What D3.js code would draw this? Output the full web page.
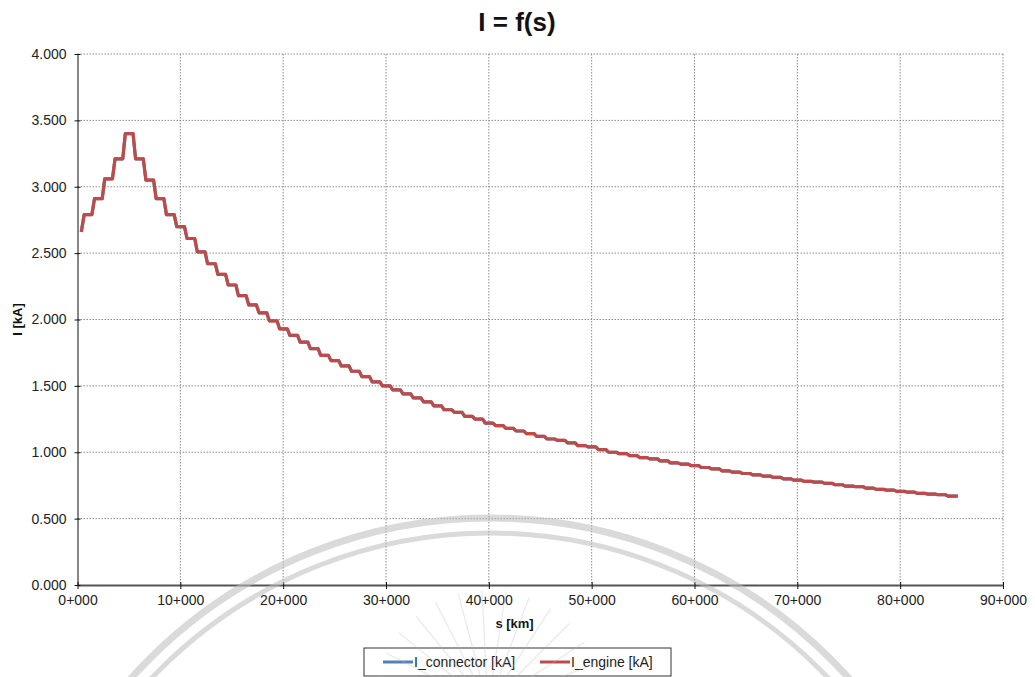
<!DOCTYPE html>
<html lang="en">
<head>
    <meta charset="UTF-8" />
    <title>I = f(s)</title>
    <script src="https://d3js.org/d3.v7.min.js"></script>
    <style>
        body { margin: 0; background: #fff; font-family: 'Liberation Sans', Arial, sans-serif; }
        .tick text { font-size: 14px; fill: #222; }
        .grid line { stroke: #8c8c8c; stroke-dasharray: 1.5,1.5; }
        .title { font-size: 26px; font-weight: bold; fill: #111; }
        .axis-label { font-size: 13px; font-weight: bold; fill: #111; }
        .legend text { font-size: 14px; fill: #222; }
    </style>
</head>
<body>
<svg id="chart"></svg>
<script>
    // x axis in km, y axis in kA
    const xTicks = [0, 10, 20, 30, 40, 50, 60, 70, 80, 90];
    const yTicks = [0, 0.5, 1, 1.5, 2, 2.5, 3, 3.5, 4];

    // first point, then one level per km step (step centred on s = 1, 2, 3 ...)
    const startS = 0.37, startI = 2.66;
    const endS = 85.6;
    const levels = [
        2.79, 2.91, 3.06, 3.21, 3.40, 3.21, 3.05, 2.91, 2.79, 2.70,
        2.61, 2.51, 2.42, 2.34, 2.26, 2.18, 2.11, 2.05, 1.99, 1.93,
        1.88, 1.83, 1.78, 1.73, 1.69, 1.65, 1.61, 1.57, 1.53, 1.50,
        1.47, 1.44, 1.41, 1.38, 1.35, 1.32, 1.30, 1.27, 1.25, 1.22,
        1.20, 1.18, 1.16, 1.14, 1.12, 1.10, 1.09, 1.07, 1.05, 1.04,
        1.02, 1.00, 0.99, 0.975, 0.96, 0.95, 0.935, 0.92, 0.91, 0.90,
        0.885, 0.875, 0.86, 0.85, 0.84, 0.83, 0.82, 0.81, 0.80, 0.79,
        0.78, 0.775, 0.765, 0.755, 0.745, 0.74, 0.73, 0.72, 0.715, 0.705,
        0.70, 0.69, 0.685, 0.68, 0.67
    ];
    const seriesNames = ["I_connector [kA]", "I_engine [kA]"];
    const seriesColors = ["#4f81bd", "#be4b48"];

    const W = 1035, H = 677;
    const margin = { top: 54, right: 32, bottom: 92, left: 77.5 };
    const width = W - margin.left - margin.right;
    const height = H - margin.top - margin.bottom;

    const root = d3.select("#chart").attr("width", W).attr("height", H);
    const svg = root.append("g")
        .attr("transform", "translate(" + margin.left + "," + margin.top + ")");

    const x = d3.scaleLinear().domain([0, 90]).range([0, width]);
    const y = d3.scaleLinear().domain([0, 4]).range([height, 0]);

    // gridlines
    svg.append("g").attr("class", "grid")
        .selectAll("line").data(yTicks.slice(1)).enter().append("line")
        .attr("x1", 0).attr("x2", width)
        .attr("y1", d => y(d)).attr("y2", d => y(d));
    svg.append("g").attr("class", "grid")
        .selectAll("line").data(xTicks.slice(1)).enter().append("line")
        .attr("y1", 0).attr("y2", height)
        .attr("x1", d => x(d)).attr("x2", d => x(d));

    // axes
    const xAxis = svg.append("g")
        .attr("transform", "translate(0," + height + ")")
        .call(d3.axisBottom(x).tickValues(xTicks).tickFormat(d => d + "+000")
            .tickSizeInner(4).tickSizeOuter(0).tickPadding(6));
    xAxis.select(".domain").attr("stroke", "#555").attr("stroke-width", 2);
    xAxis.selectAll(".tick line").attr("stroke", "#111").attr("y1", -3);

    const yAxis = svg.append("g")
        .call(d3.axisLeft(y).tickValues(yTicks).tickFormat(d3.format(".3f"))
            .tickSizeInner(3).tickSizeOuter(0).tickPadding(8));
    yAxis.select(".domain").attr("stroke", "#111");
    yAxis.selectAll(".tick line").attr("stroke", "#111").attr("x2", -3).attr("x1", 3);

    // step series points
    const pts = [{ s: startS, i: startI }];
    levels.forEach((v, k) => {
        const c = k + 1;
        pts.push({ s: c - 0.35, i: v });
        pts.push({ s: k === levels.length - 1 ? endS : c + 0.4, i: v });
    });

    const line = d3.line().x(d => x(d.s)).y(d => y(d.i));

    seriesColors.forEach(col => {
        svg.append("path")
            .datum(pts)
            .attr("fill", "none")
            .attr("stroke", col)
            .attr("stroke-width", 3.2)
            .attr("stroke-linejoin", "round")
            .attr("d", line);
    });

    // titles
    root.append("text").attr("class", "title")
        .attr("x", 517).attr("y", 31).attr("text-anchor", "middle").text("I = f(s)");
    root.append("text").attr("class", "axis-label")
        .attr("x", margin.left + x(42.5)).attr("y", 628).attr("text-anchor", "middle").text("s [km]");
    root.append("text").attr("class", "axis-label")
        .attr("transform", "translate(22," + (margin.top + y(2)) + ") rotate(-90)")
        .attr("text-anchor", "middle").text("I [kA]");

    // legend
    const lg = root.append("g").attr("class", "legend").attr("transform", "translate(364,648)");
    lg.append("rect").attr("width", 307).attr("height", 28)
        .attr("fill", "#fff").attr("stroke", "#333");
    const lx = [19, 176];
    seriesNames.forEach((n, k) => {
        lg.append("line").attr("x1", lx[k]).attr("x2", lx[k] + 30)
            .attr("y1", 14).attr("y2", 14)
            .attr("stroke", seriesColors[k]).attr("stroke-width", 3);
        lg.append("text").attr("x", lx[k] + 31).attr("y", 19).text(n);
    });

    // faint watermark
    const wm = root.append("g").attr("fill", "none").attr("stroke", "#bdbdbd").attr("opacity", 0.55);
    wm.append("circle").attr("cx", 490).attr("cy", 1000).attr("r", 482).attr("stroke-width", 7);
    wm.append("circle").attr("cx", 490).attr("cy", 1000).attr("r", 467).attr("stroke-width", 5);
    d3.range(-165, -10, 12).forEach(a => {
        const r = a * Math.PI / 180;
        wm.append("line")
            .attr("x1", 488 + Math.cos(r) * 30).attr("y1", 705 + Math.sin(r) * 30)
            .attr("x2", 488 + Math.cos(r) * 115).attr("y2", 705 + Math.sin(r) * 115)
            .attr("stroke-width", 1.2).attr("opacity", 0.6);
    });
</script>
</body>
</html>
